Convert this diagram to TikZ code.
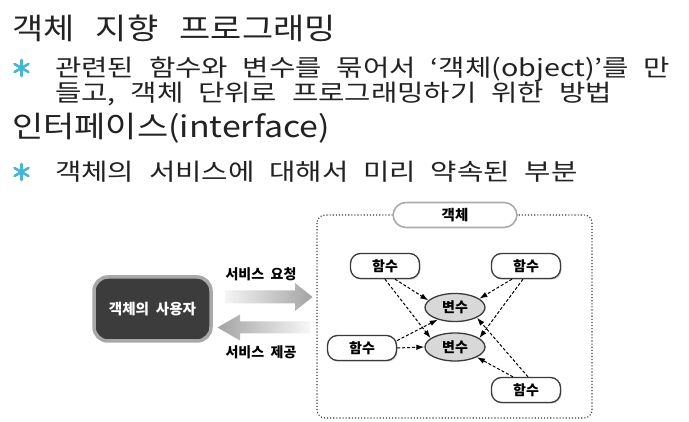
\documentclass[tikz,border=0pt]{standalone}
\usepackage{fontspec}
\newfontfamily\kr{Noto Sans CJK KR}[WordSpace=2.0]
\newfontfamily\krhead{Noto Sans CJK KR}[WordSpace=2.8, FakeStretch=1.15]
\newfontfamily\krbody{Noto Sans CJK KR}[WordSpace=2.3, FakeStretch=1.22]
\usetikzlibrary{arrows.meta,shadows,shapes.geometric}
\definecolor{txt}{HTML}{222222}
\definecolor{star}{HTML}{45B5D6}
\definecolor{userfill}{HTML}{3C3C3C}
\definecolor{userrim}{HTML}{A8A8A8}
\definecolor{varfill}{HTML}{D8D8D8}
\definecolor{edge}{HTML}{3A3A3A}
\tikzset{
  headline/.style={anchor=base west, inner sep=0pt, text=txt, font=\krhead\fontsize{29.5}{31}\selectfont},
  bodyline/.style={anchor=base west, inner sep=0pt, text=txt, font=\krbody\fontsize{23.5}{25}\selectfont},
  starmark/.style={star, line width=2.6pt, line cap=round},
  userbox/.style={draw=userrim, line width=3.5pt, fill=userfill, rounded corners=14pt,
    minimum width=117pt, minimum height=64pt, text=white, font=\kr\bfseries\fontsize{14.6}{15}\selectfont},
  lbl/.style={inner sep=0pt, font=\kr\bfseries\fontsize{14}{15}\selectfont},
  container/.style={draw=edge, dotted, line width=1.1pt, rounded corners=8pt},
  titlebox/.style={draw=gray!65, line width=1.6pt, fill=white, rounded corners=13pt,
    minimum width=124pt, minimum height=25pt, font=\kr\bfseries\fontsize{14.5}{15}\selectfont},
  fnbox/.style={draw=edge, line width=1.3pt, fill=white, rounded corners=10pt,
    minimum width=69pt, minimum height=25pt, font=\kr\bfseries\fontsize{14}{15}\selectfont,
    drop shadow={shadow xshift=1pt, shadow yshift=-1.2pt, opacity=0.35}},
  varbox/.style={ellipse, draw=edge, line width=1.3pt, fill=varfill, inner sep=0pt,
    minimum width=60pt, minimum height=28pt, font=\kr\bfseries\fontsize{14}{15}\selectfont},
  link/.style={dashed, dash pattern=on 3pt off 2pt, line width=1pt, black,
    -{Latex[length=8pt,width=5.5pt]}}
}
\begin{document}
\begin{tikzpicture}[x=1pt,y=-1pt]
\useasboundingbox (0,0) rectangle (689,422);
\fill[white] (0,0) rectangle (689,422);

% top text
\node[headline] (t1) at (12,40) {객체 지향 프로그래밍};
\node[bodyline] (t2) at (55,76.5) {관련된 함수와 변수를 묶어서 ‘객체(object)’를 만};
\node[bodyline] (t3) at (55,101.5) {들고, 객체 단위로 프로그래밍하기 위한 방법};
\node[headline] (t4) at (12,138) {인터페이스(interface)};
\node[bodyline] (t5) at (55,180.5) {객체의 서비스에 대해서 미리 약속된 부분};

% bullets
\foreach \cy in {68,172}{
  \draw[starmark] (21.5,\cy-8) -- (21.5,\cy+8);
  \draw[starmark] (21.5-7,\cy-4) -- (21.5+7,\cy+4);
  \draw[starmark] (21.5-7,\cy+4) -- (21.5+7,\cy-4);
}

% user
\node[userbox] (user) at (152.5,309) {객체의 사용자};

% service arrows
\shade[left color=gray!8, right color=gray!72]
  (225,290.5) -- (295,290.5) -- (295,283) -- (312.5,297) -- (295,311) -- (295,303.5) -- (225,303.5) -- cycle;
\shade[left color=gray!72, right color=gray!6]
  (310,321.5) -- (240,321.5) -- (240,314.5) -- (217.5,327.5) -- (240,340.5) -- (240,333.5) -- (310,333.5) -- cycle;
\node[lbl] (req) at (261,274.5) {서비스 요청};
\node[lbl] (prov) at (261,352) {서비스 제공};

% object container
\draw[container] (317,215) rectangle (592,418);
\node[titlebox] (title) at (455,215) {객체};

% functions and variables
\node[fnbox] (fnTL) at (385,266) {함수};
\node[fnbox] (fnTR) at (526,266) {함수};
\node[fnbox] (fnML) at (362,348) {함수};
\node[fnbox] (fnBR) at (526,390) {함수};
\node[varbox] (varT) at (455,307.5) {변수};
\node[varbox] (varB) at (455,347) {변수};

% links
\draw[link] ([xshift=10pt]fnTL.south) -- (varT.165);
\draw[link] ([xshift=0pt]fnTL.south) -- (varB.160);
\draw[link] ([xshift=-14pt]fnTR.south) -- (varT.20);
\draw[link] ([xshift=-3pt]fnTR.south) -- (varB.20);
\draw[link] (fnML.12) -- (varT.215);
\draw[link] (fnML.east) -- (varB.west);
\draw[link] ([xshift=2pt]fnBR.north) -- (varT.335);
\draw[link] ([xshift=-13pt]fnBR.north) -- (varB.335);
\end{tikzpicture}
\end{document}
